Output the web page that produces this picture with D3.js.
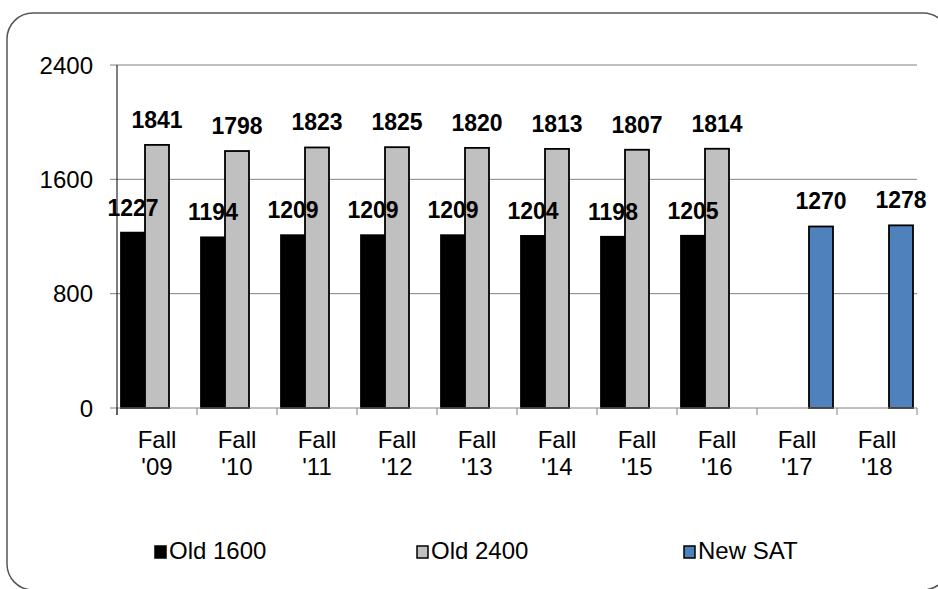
<!DOCTYPE html>
<html>
<head>
<meta charset="utf-8">
<script src="https://cdn.jsdelivr.net/npm/d3@7"></script>
<style>
  html, body { margin: 0; padding: 0; background: #fff; }
  svg { display: block; font-family: "Liberation Sans", Arial, sans-serif; }
</style>
</head>
<body>
<svg id="chart" width="938" height="589"></svg>
<script>
const categories = ["Fall\n'09", "Fall\n'10", "Fall\n'11", "Fall\n'12", "Fall\n'13", "Fall\n'14", "Fall\n'15", "Fall\n'16", "Fall\n'17", "Fall\n'18"];
const seriesNames = ["Old 1600", "Old 2400", "New SAT"];
const old1600 = [1227, 1194, 1209, 1209, 1209, 1204, 1198, 1205, null, null];
const old2400 = [1841, 1798, 1823, 1825, 1820, 1813, 1807, 1814, null, null];
const newSAT  = [null, null, null, null, null, null, null, null, 1270, 1278];
const yTicks = [0, 800, 1600, 2400];
const seriesColors = ["#000000", "#C0C0C0", "#4F81BD"];

const seriesData = [old1600, old2400, newSAT];

const svg = d3.select("#chart");

// outer rounded frame
svg.append("rect")
  .attr("x", 7).attr("y", 13)
  .attr("width", 942).attr("height", 577)
  .attr("rx", 26).attr("ry", 26)
  .attr("fill", "none").attr("stroke", "#555").attr("stroke-width", 1.5);

const x0 = 117, x1 = 917, yTop = 65, yBot = 408;
const x = d3.scaleBand().domain(categories).range([x0, x1]).padding(0);
const xs = d3.scaleBand().domain(seriesNames).range([0, x.bandwidth()]).paddingInner(0).paddingOuter(1/6);
const y = d3.scaleLinear().domain([0, 2400]).range([yBot, yTop]);

// gridlines
svg.append("g").selectAll("line").data(yTicks.filter(d => d > 0)).join("line")
  .attr("x1", x0 - 7).attr("x2", x1)
  .attr("y1", d => y(d)).attr("y2", d => y(d))
  .attr("stroke", "#808080").attr("stroke-width", 1);

// y tick labels
svg.append("g").selectAll("text").data(yTicks).join("text")
  .attr("x", 93).attr("y", d => y(d) + 8.6)
  .attr("text-anchor", "end")
  .attr("font-size", 24)
  .attr("fill", "#000")
  .text(d => d);

// bars per series
seriesData.forEach((vals, si) => {
  const name = seriesNames[si];
  const pts = categories.map((c, i) => ({c, v: vals[i]})).filter(d => d.v != null);
  svg.append("g").selectAll("rect").data(pts).join("rect")
    .attr("x", d => x(d.c) + xs(name))
    .attr("y", d => y(d.v))
    .attr("width", xs.bandwidth())
    .attr("height", d => y(0) - y(d.v))
    .attr("fill", seriesColors[si])
    .attr("stroke", "#000").attr("stroke-width", 1.8);
});

// x axis baseline and ticks
svg.append("line")
  .attr("x1", x0 - 7).attr("x2", x1)
  .attr("y1", yBot).attr("y2", yBot)
  .attr("stroke", "#808080").attr("stroke-width", 1);
const tickXs = categories.map(c => x(c)).concat([x1]);
svg.append("g").selectAll("line").data(tickXs).join("line")
  .attr("x1", d => d).attr("x2", d => d)
  .attr("y1", yBot).attr("y2", yBot + 7)
  .attr("stroke", "#808080").attr("stroke-width", 1);
// y axis line
svg.append("line")
  .attr("x1", x0).attr("x2", x0)
  .attr("y1", yTop).attr("y2", yBot + 7)
  .attr("stroke", "#000").attr("stroke-width", 1);

// value labels on top
seriesData.forEach((vals, si) => {
  const name = seriesNames[si];
  const pts = categories.map((c, i) => ({c, v: vals[i]})).filter(d => d.v != null);
  svg.append("g").selectAll("text").data(pts).join("text")
    .attr("x", d => x(d.c) + xs(name) + xs.bandwidth() / 2)
    .attr("y", d => y(d.v) - 17)
    .attr("text-anchor", "middle")
    .attr("font-size", 23).attr("font-weight", "bold")
    .attr("fill", "#000")
    .text(d => d.v);
});

// category labels
const cl = svg.append("g").selectAll("text").data(categories).join("text")
  .attr("text-anchor", "middle")
  .attr("font-size", 24)
  .attr("fill", "#000");
cl.each(function(c) {
  const lines = c.split("\n");
  const t = d3.select(this);
  lines.forEach((ln, i) => {
    t.append("tspan")
      .attr("x", x(c) + x.bandwidth() / 2)
      .attr("y", 448 + i * 27)
      .text(ln);
  });
});

// legend
const legendX = [155, 417, 684];
const lgd = svg.append("g");
seriesNames.forEach((n, i) => {
  lgd.append("rect")
    .attr("x", legendX[i]).attr("y", 546)
    .attr("width", 11).attr("height", 12)
    .attr("fill", seriesColors[i])
    .attr("stroke", "#000").attr("stroke-width", 1.5);
  lgd.append("text")
    .attr("x", legendX[i] + 14).attr("y", 559)
    .attr("font-size", 24)
    .attr("fill", "#000")
    .text(n);
});
</script>
</body>
</html>
